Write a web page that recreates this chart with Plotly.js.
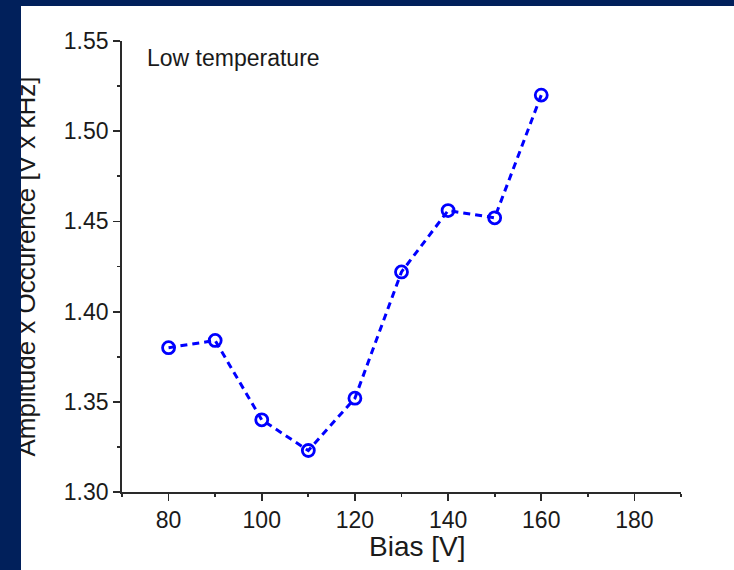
<!DOCTYPE html>
<html>
<head>
<meta charset="utf-8">
<script src="https://cdn.plot.ly/plotly-3.0.1.min.js"></script>
<style>
  html, body { margin: 0; padding: 0; background: #01205b; width: 734px; height: 570px; overflow: hidden; }
  #chart { position: absolute; left: 21px; top: 6px; width: 713px; height: 564px; }
</style>
</head>
<body>
<div id="chart"></div>
<script>
const biasV = [80, 90, 100, 110, 120, 130, 140, 150, 160];
const ampOcc = [1.380, 1.384, 1.340, 1.323, 1.352, 1.422, 1.456, 1.452, 1.520];
const xTitle = "Bias [V]";
const yTitle = "Amplitude x Occurence [V x kHz]";
const label = "Low temperature";

const blue = "#0000ff";
const axisColor = "#2a2a2a";
const textColor = "#1a1a1a";
const font = "Arial, 'Liberation Sans', sans-serif";

const trace = {
  x: biasV, y: ampOcc, type: "scatter", mode: "lines+markers",
  line: { color: blue, width: 3, dash: "7px,5px" },
  marker: { symbol: "circle-open", size: 12, color: blue, line: { color: blue, width: 2.8 } },
  showlegend: false, hoverinfo: "x+y"
};

const layout = {
  width: 713, height: 564,
  paper_bgcolor: "#ffffff", plot_bgcolor: "#ffffff",
  margin: { l: 101, r: 53, t: 35, b: 78, pad: 0 },
  font: { family: font, color: textColor, size: 23 },
  xaxis: {
    range: [70, 190], dtick: 20, tick0: 0,
    showgrid: false, zeroline: false, showline: true, linecolor: axisColor, linewidth: 1.8,
    ticks: "outside", ticklen: 7, tickwidth: 1.8, tickcolor: axisColor,
    ticklabelstandoff: 0,
    minor: { dtick: 10, ticklen: 3, tickwidth: 1.8, tickcolor: axisColor, ticks: "outside", showgrid: false },
    tickfont: { size: 23, color: textColor },
    automargin: false, fixedrange: true
  },
  yaxis: {
    range: [1.30, 1.55], dtick: 0.05, tick0: 0, tickformat: ".2f",
    showgrid: false, zeroline: false, showline: true, linecolor: axisColor, linewidth: 1.8,
    ticks: "outside", ticklen: 7, tickwidth: 1.8, tickcolor: axisColor,
    ticklabelstandoff: 0,
    minor: { dtick: 0.025, ticklen: 3, tickwidth: 1.8, tickcolor: axisColor, ticks: "outside", showgrid: false },
    tickfont: { size: 23, color: textColor },
    automargin: false, fixedrange: true
  },
  annotations: [
    {
      text: label, xref: "paper", yref: "paper", x: 0.042, y: 0.963,
      xanchor: "left", yanchor: "middle", showarrow: false,
      font: { size: 23, color: textColor, family: font }
    },
    {
      text: xTitle, xref: "paper", yref: "paper", x: 0.527, y: 0, yshift: -54,
      xanchor: "center", yanchor: "middle", showarrow: false,
      font: { size: 28, color: textColor, family: font }
    },
    {
      text: yTitle, xref: "paper", yref: "paper", x: 0, xshift: -97, y: 0.5,
      xanchor: "center", yanchor: "middle", textangle: -90, showarrow: false,
      font: { size: 26, color: textColor, family: font }
    }
  ]
};

Plotly.newPlot("chart", [trace], layout, { displayModeBar: false, staticPlot: true });
</script>
</body>
</html>
